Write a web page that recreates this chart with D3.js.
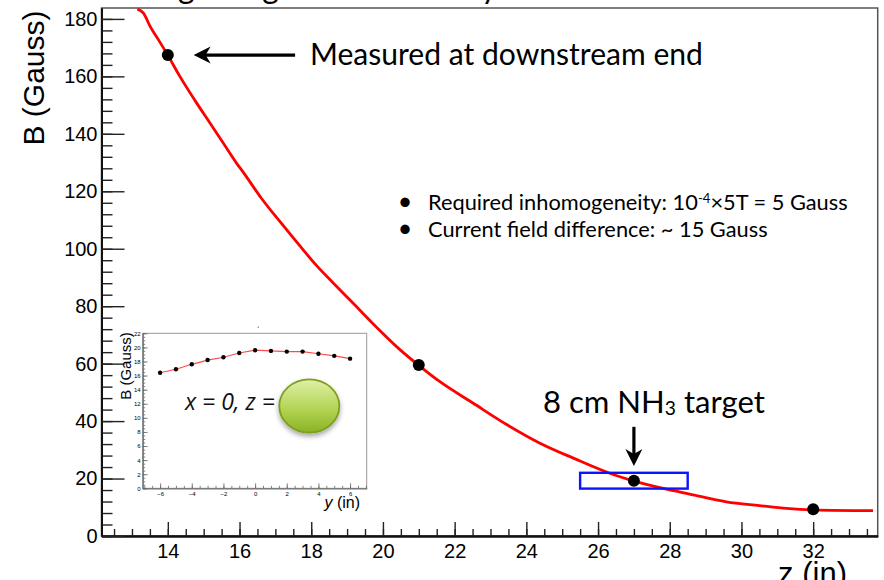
<!DOCTYPE html>
<html>
<head>
<meta charset="utf-8">
<script src="https://cdn.jsdelivr.net/npm/d3@7"></script>
<style>
body { margin: 0; background: #fff; }
svg { display: block; }
.note { font-family: "Gill Sans", Lato, "Open Sans", sans-serif; fill: #000; }
.root { font-family: "Liberation Sans", Arial, sans-serif; fill: #000; }
</style>
</head>
<body>
<script>
// B field along z
var curveZ = [13.15, 13.32, 13.51, 13.74, 13.97, 14.34, 14.81, 15.18, 15.55, 15.92, 16.11, 16.62, 17.13, 17.69, 18.15, 18.62, 19.17, 19.73, 20.48, 20.99, 21.59, 22.52, 23.45, 24.38, 25.31, 26.42, 26.98, 27.91, 28.55, 29.58, 30.50, 31.26, 32.0, 33.67];
var curveB = [183.4, 182.0, 177.3, 172.7, 168.0, 159.9, 150.6, 143.7, 136.7, 129.7, 126.5, 117.4, 109.4, 100.9, 94.1, 88.0, 81.0, 73.8, 64.8, 59.5, 53.7, 46.2, 38.8, 32.3, 27.1, 21.4, 19.2, 16.3, 14.6, 11.9, 10.6, 9.6, 9.1, 8.8];

// measured points
var pointZ = [14, 21, 27, 32];
var pointB = [167.4, 59.5, 19.2, 9.3];

// target cell (z range and B range of the box)
var targetZ = [25.5, 28.5];
var targetB = [16.5, 22];

// inset: B vs y at x = 0
var insetY = [-6, -5, -4, -3, -2, -1, 0, 1, 2, 3, 4, 5, 6];
var insetB = [16.4, 16.9, 17.6, 18.2, 18.6, 19.2, 19.6, 19.5, 19.4, 19.4, 19.1, 18.8, 18.4];

// tick labels
var xTicks = [14, 16, 18, 20, 22, 24, 26, 28, 30, 32];
var yTicks = [0, 20, 40, 60, 80, 100, 120, 140, 160, 180];
var insetXTicks = [-6, -4, -2, 0, 2, 4, 6];
var insetYTicks = [0, 2, 4, 6, 8, 10, 12, 14, 16, 18, 20, 22];

var width = 884, height = 580;
var margin = {top: 8, right: 6.3, bottom: 44, left: 101.5};
var plotW = width - margin.left - margin.right;
var plotH = height - margin.top - margin.bottom;

var svg = d3.select("body").append("svg")
    .attr("width", width)
    .attr("height", height);

var defs = svg.append("defs");
defs.append("clipPath").attr("id", "plotclip")
  .append("rect").attr("width", plotW).attr("height", plotH);

var grad = defs.append("linearGradient").attr("id", "green")
    .attr("x1", 0).attr("y1", 0).attr("x2", 0).attr("y2", 1);
grad.append("stop").attr("offset", "0%").attr("stop-color", "#dff0a8");
grad.append("stop").attr("offset", "55%").attr("stop-color", "#b4d455");
grad.append("stop").attr("offset", "100%").attr("stop-color", "#8ab323");

var shadow = defs.append("filter").attr("id", "shadow")
    .attr("x", "-30%").attr("y", "-30%").attr("width", "160%").attr("height", "170%");
shadow.append("feDropShadow").attr("dx", 0).attr("dy", 3).attr("stdDeviation", 2.5)
    .attr("flood-color", "#000").attr("flood-opacity", 0.35);

// title above the frame, only its descenders show
var title = svg.append("text").attr("class", "note")
    .attr("font-size", 32).attr("y", -2)
    .text("Moving along the z-axis: very fast");
title.attr("x", 178 - title.node().getStartPositionOfChar(5).x);

var g = svg.append("g")
    .attr("transform", "translate(" + margin.left + "," + margin.top + ")");

var x = d3.scaleLinear().domain([12.15, 33.8]).range([0, plotW]);
var y = d3.scaleLinear().domain([0, 183.8]).range([plotH, 0]);

// frame
g.append("rect")
    .attr("width", plotW).attr("height", plotH)
    .attr("fill", "none").attr("stroke", "#555").attr("stroke-width", 1.5);

// axes, ROOT style ticks pointing inward
var xMinor = g.append("g").attr("transform", "translate(0," + plotH + ")")
    .call(d3.axisBottom(x).tickValues(d3.range(12.5, 33.8, 0.5)).tickSize(-7).tickSizeOuter(0).tickFormat(""));
var xMajor = g.append("g").attr("transform", "translate(0," + plotH + ")")
    .call(d3.axisBottom(x).tickValues(xTicks).tickSize(-14).tickSizeOuter(0).tickPadding(8));

var yMinor = g.append("g")
    .call(d3.axisLeft(y).tickValues(d3.range(0, 181, 4)).tickSize(-11).tickSizeOuter(0).tickFormat(""));
var yMajor = g.append("g")
    .call(d3.axisLeft(y).tickValues(yTicks).tickSize(-23).tickSizeOuter(0).tickPadding(4));

[xMinor, xMajor, yMinor, yMajor].forEach(function(a) {
    a.select(".domain").attr("stroke", "#111").attr("stroke-width", 2);
    a.selectAll(".tick line").attr("stroke", "#222").attr("stroke-width", 1.4);
    a.selectAll("text").attr("class", "root").attr("font-size", 20).attr("fill", "#111");
});

// axis titles
svg.append("text").attr("class", "root")
    .attr("font-size", 30)
    .attr("text-anchor", "middle")
    .attr("transform", "translate(44,78) rotate(-90)")
    .text("B (Gauss)");
svg.append("text").attr("class", "root")
    .attr("font-size", 31)
    .attr("text-anchor", "end")
    .attr("x", 847).attr("y", 584)
    .text("z (in)");

// red curve
var line = d3.line()
    .curve(d3.curveMonotoneX)
    .x(function(d, i) { return x(curveZ[i]); })
    .y(function(d, i) { return y(curveB[i]); });
g.append("path")
    .datum(curveZ)
    .attr("clip-path", "url(#plotclip)")
    .attr("fill", "none")
    .attr("stroke", "#ff0000")
    .attr("stroke-width", 2.8)
    .attr("d", line);

// target box
g.append("rect")
    .attr("x", x(targetZ[0])).attr("y", y(targetB[1]))
    .attr("width", x(targetZ[1]) - x(targetZ[0]))
    .attr("height", y(targetB[0]) - y(targetB[1]))
    .attr("fill", "none").attr("stroke", "#0a14ff").attr("stroke-width", 2.4);

// measured points
g.selectAll(".pt")
    .data(pointZ)
    .enter().append("circle")
    .attr("class", "pt")
    .attr("cx", function(d) { return x(d); })
    .attr("cy", function(d, i) { return y(pointB[i]); })
    .attr("r", 6)
    .attr("fill", "#000");

// arrows
function arrow(x1, y1, x2, y2) {
    var dx = x2 - x1, dy = y2 - y1, len = Math.sqrt(dx * dx + dy * dy);
    var ux = dx / len, uy = dy / len;
    var head = 17, half = 8.5;
    var bx = x2 - ux * head, by = y2 - uy * head;
    g.append("line")
        .attr("x1", x1).attr("y1", y1)
        .attr("x2", x2 - ux * 8).attr("y2", y2 - uy * 8)
        .attr("stroke", "#000").attr("stroke-width", 3.2);
    g.append("path")
        .attr("d", "M" + x2 + "," + y2 +
            "L" + (bx - uy * half) + "," + (by + ux * half) +
            "L" + (x2 - ux * 12) + "," + (y2 - uy * 12) +
            "L" + (bx + uy * half) + "," + (by - ux * half) + "Z")
        .attr("fill", "#000");
}
arrow(x(17.55), y(167.4), x(14.72), y(167.4));
arrow(x(27), y(38), x(27), y(24.4));

function fitText(t, w) {
    var s = +t.attr("font-size");
    var cur = t.node().getComputedTextLength();
    t.attr("font-size", s * w / cur);
    return s * w / cur;
}

// annotations
var measured = svg.append("text").attr("class", "note")
    .attr("font-size", 30).attr("x", 310).attr("y", 65)
    .text("Measured at downstream end");
fitText(measured, 393);

var l1 = svg.append("text").attr("class", "note")
    .attr("font-size", 20).attr("x", 428).attr("y", 210);
l1.append("tspan").text("Required inhomogeneity: 10");
l1.append("tspan").attr("font-size", "0.6em").attr("dy", -7).text("-4");
l1.append("tspan").attr("dy", 7).text("\u00d75T = 5 Gauss");
var bulletSize = fitText(l1, 420);
svg.append("text").attr("class", "note")
    .attr("font-size", bulletSize).attr("x", 428).attr("y", 237)
    .text("Current field difference: ~ 15 Gauss");
[210, 237].forEach(function(b) {
    svg.append("text").attr("class", "note")
        .attr("font-size", bulletSize * 1.15).attr("text-anchor", "middle")
        .attr("x", 405).attr("y", b)
        .text("\u2022");
});

var nh3 = svg.append("text").attr("class", "note")
    .attr("font-size", 28).attr("x", 543).attr("y", 413);
nh3.append("tspan").text("8 cm NH");
nh3.append("tspan").attr("font-size", "0.62em").attr("dy", 2).text("3");
nh3.append("tspan").attr("dy", -2).text(" target");
fitText(nh3, 222);

// inset
var ix = d3.scaleLinear().domain([-7.1, 7.05]).range([142.7, 366.7]);
var iy = d3.scaleLinear().domain([0, 22]).range([488.3, 333.3]);

var inset = svg.append("g");
inset.append("rect")
    .attr("x", ix.range()[0]).attr("y", iy.range()[1])
    .attr("width", ix.range()[1] - ix.range()[0])
    .attr("height", iy.range()[0] - iy.range()[1])
    .attr("fill", "#fff").attr("stroke", "#999").attr("stroke-width", 1);

var iaxes = [
    inset.append("g").attr("transform", "translate(0," + iy.range()[0] + ")")
        .call(d3.axisBottom(ix).tickValues(d3.range(-7, 7.01, 0.5)).tickSize(-2.5).tickSizeOuter(0).tickFormat("")),
    inset.append("g").attr("transform", "translate(0," + iy.range()[0] + ")")
        .call(d3.axisBottom(ix).tickValues(insetXTicks).tickSize(-5).tickSizeOuter(0).tickPadding(3)),
    inset.append("g").attr("transform", "translate(" + ix.range()[0] + ",0)")
        .call(d3.axisLeft(iy).tickValues(d3.range(0, 22.01, 0.5)).tickSize(-2.5).tickSizeOuter(0).tickFormat("")),
    inset.append("g").attr("transform", "translate(" + ix.range()[0] + ",0)")
        .call(d3.axisLeft(iy).tickValues(insetYTicks).tickSize(-5).tickSizeOuter(0).tickPadding(2))
];
iaxes.forEach(function(a) {
    a.select(".domain").attr("stroke", "#777").attr("stroke-width", 1);
    a.selectAll(".tick line").attr("stroke", "#666").attr("stroke-width", 0.8);
    a.selectAll("text").attr("class", "root").attr("font-size", 6).attr("fill", "#444");
});

var iline = d3.line()
    .x(function(d, i) { return ix(insetY[i]); })
    .y(function(d, i) { return iy(insetB[i]); });
inset.append("path")
    .datum(insetY)
    .attr("fill", "none").attr("stroke", "#ff4a4a").attr("stroke-width", 1.2)
    .attr("d", iline);
inset.selectAll(".ipt")
    .data(insetY)
    .enter().append("circle")
    .attr("class", "ipt")
    .attr("cx", function(d) { return ix(d); })
    .attr("cy", function(d, i) { return iy(insetB[i]); })
    .attr("r", 2.2)
    .attr("fill", "#000");

svg.append("text").attr("class", "root")
    .attr("font-size", 15).attr("fill", "#222")
    .attr("text-anchor", "middle")
    .attr("transform", "translate(131,366) rotate(-90)")
    .text("B (Gauss)");

var ylab = svg.append("text").attr("class", "root")
    .attr("font-size", 16).attr("fill", "#222")
    .attr("text-anchor", "end")
    .attr("x", 360).attr("y", 508);
ylab.append("tspan").attr("font-style", "italic").text("y");
ylab.append("tspan").text(" (in)");

var pos = svg.append("text")
    .attr("font-family", "'Open Sans', Lato, sans-serif")
    .attr("font-style", "italic")
    .attr("font-size", 22).attr("x", 185).attr("y", 410)
    .attr("fill", "#111")
    .text("x = 0, z =");
fitText(pos, 90);

svg.append("ellipse")
    .attr("cx", 309.3).attr("cy", 406)
    .attr("rx", 30).attr("ry", 26.7)
    .attr("fill", "url(#green)")
    .attr("stroke", "#7d9f1f").attr("stroke-width", 1.8)
    .attr("filter", "url(#shadow)");

svg.append("circle").attr("cx", 258.3).attr("cy", 327.3).attr("r", 0.8).attr("fill", "#888");
</script>
</body>
</html>
